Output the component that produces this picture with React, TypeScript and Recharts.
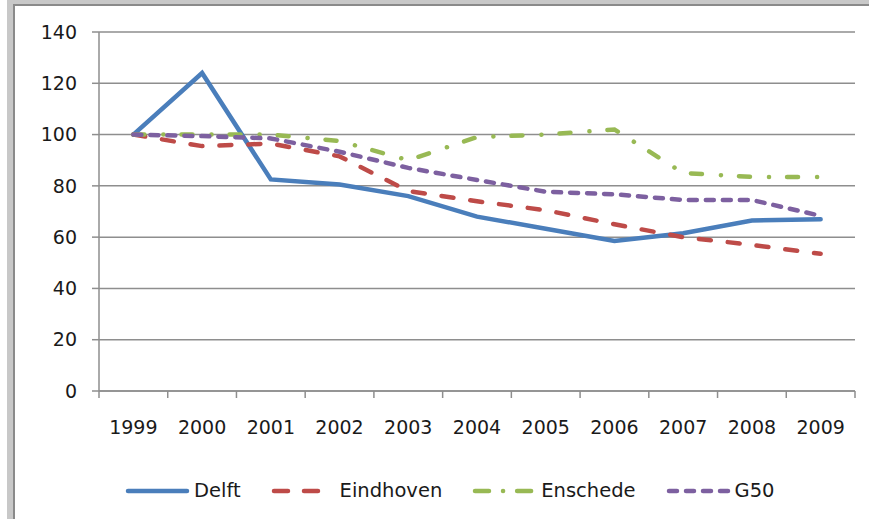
import React from 'react';
import { LineChart, Line, XAxis, YAxis, CartesianGrid, Legend } from 'recharts';

const years = ['1999', '2000', '2001', '2002', '2003', '2004', '2005', '2006', '2007', '2008', '2009'];
const delft = [100, 124, 82.5, 80.5, 76, 68, 63.3, 58.5, 61.5, 66.5, 67];
const eindhoven = [100, 95.5, 96.5, 91.5, 78, 74, 70.5, 65, 60, 57, 53.5];
const enschede = [100, 100, 100, 97.5, 90, 99, 100, 102, 85, 83.5, 83.5];
const g50 = [100, 99.4, 98.5, 93.3, 87, 82.3, 77.7, 76.7, 74.5, 74.5, 68.3];
const yTicks = [0, 20, 40, 60, 80, 100, 120, 140];

const data = years.map((year, i) => ({
  year,
  Delft: delft[i],
  Eindhoven: eindhoven[i],
  Enschede: enschede[i],
  G50: g50[i],
}));

const W = 869;
const H = 519;
const PLOT_LEFT = 99;
const PLOT_RIGHT = 855;
const BAND = (PLOT_RIGHT - PLOT_LEFT) / years.length;
const TICK_SIZE = 7;
const TICK_MARGIN = 23;
const AXIS_GRAY = '#8e8e8e';
const FONT = 'DejaVu Sans';

const series = [
  { key: 'Delft', color: '#4a7ebb', dash: undefined as string | undefined, legendDash: undefined as string | undefined },
  { key: 'Eindhoven', color: '#be4b48', dash: '12 17', legendDash: '14 16' },
  { key: 'Enschede', color: '#98b954', dash: '11 19 0.1 18', legendDash: '14 14 0.1 14' },
  { key: 'G50', color: '#7d60a0', dash: '8 9', legendDash: '8 9' },
];

// ticks sit between the categories, labels in the middle
const XTick = (props: any) => {
  const { x, y, payload, index } = props;
  const ay = y - TICK_SIZE - TICK_MARGIN;
  return (
    <g>
      <line x1={x - BAND / 2} x2={x - BAND / 2} y1={ay} y2={ay + TICK_SIZE} stroke={AXIS_GRAY} strokeWidth={1.5} />
      {index === years.length - 1 && (
        <line x1={x + BAND / 2} x2={x + BAND / 2} y1={ay} y2={ay + TICK_SIZE} stroke={AXIS_GRAY} strokeWidth={1.5} />
      )}
      <text x={x} y={y} dy="0.71em" textAnchor="middle" fill="#1a1a1a" fontSize={19} fontFamily={FONT}>
        {payload.value}
      </text>
    </g>
  );
};

const LegendContent = () => (
  <div style={{ display: 'flex', alignItems: 'center', paddingLeft: 125, paddingTop: 29, fontFamily: FONT, fontSize: 19.5, color: '#1a1a1a' }}>
    {series.map((s) => (
      <div key={s.key} style={{ display: 'flex', alignItems: 'center', marginRight: 30 }}>
        <svg width={66} height={10}>
          <line x1={3} x2={62} y1={5} y2={5} stroke={s.color} strokeWidth={4.5} strokeDasharray={s.legendDash} strokeLinecap="round" />
        </svg>
        <span style={{ marginLeft: 3, lineHeight: '22px' }}>{s.key}</span>
      </div>
    ))}
  </div>
);

export default function App() {
  return (
    <div style={{ position: 'absolute', left: 0, top: 0, width: W, height: H, background: '#fff', overflow: 'hidden' }}>
      {/* window frame */}
      <div style={{ position: 'absolute', left: 7, top: 0, width: 6, height: H, background: '#c8c8c8' }} />
      <div style={{ position: 'absolute', left: 13, top: 0, width: 2, height: H, background: '#8a8a8a' }} />
      <div style={{ position: 'absolute', left: 7, top: 0, width: W - 7, height: 4, background: '#c8c8c8' }} />
      <div style={{ position: 'absolute', left: 13, top: 4, width: W - 13, height: 2, background: '#8a8a8a' }} />
      <div style={{ position: 'absolute', left: 0, top: 0 }}>
        <LineChart width={W} height={H} data={data} margin={{ top: 32, right: W - PLOT_RIGHT, left: 0, bottom: 0 }}>
          <CartesianGrid vertical={false} stroke={AXIS_GRAY} strokeWidth={1.5} />
          <XAxis
            dataKey="year"
            scale="band"
            height={60}
            axisLine={{ stroke: AXIS_GRAY, strokeWidth: 1.5 }}
            tickLine={false}
            tickSize={TICK_SIZE}
            tickMargin={TICK_MARGIN}
            tick={<XTick />}
            interval={0}
          />
          <YAxis
            domain={[0, 140]}
            ticks={yTicks}
            width={PLOT_LEFT}
            axisLine={{ stroke: AXIS_GRAY, strokeWidth: 1.5 }}
            tickLine={{ stroke: AXIS_GRAY, strokeWidth: 1.5 }}
            tickSize={TICK_SIZE}
            tickMargin={15}
            tick={{ fill: '#1a1a1a', fontSize: 19, fontFamily: FONT }}
          />
          <Legend verticalAlign="bottom" height={68} content={<LegendContent />} />
          {series.map((s) => (
            <Line
              key={s.key}
              type="linear"
              dataKey={s.key}
              stroke={s.color}
              strokeWidth={4.5}
              strokeDasharray={s.dash}
              strokeLinecap="round"
              dot={false}
              activeDot={false}
              isAnimationActive={false}
            />
          ))}
        </LineChart>
      </div>
    </div>
  );
}
